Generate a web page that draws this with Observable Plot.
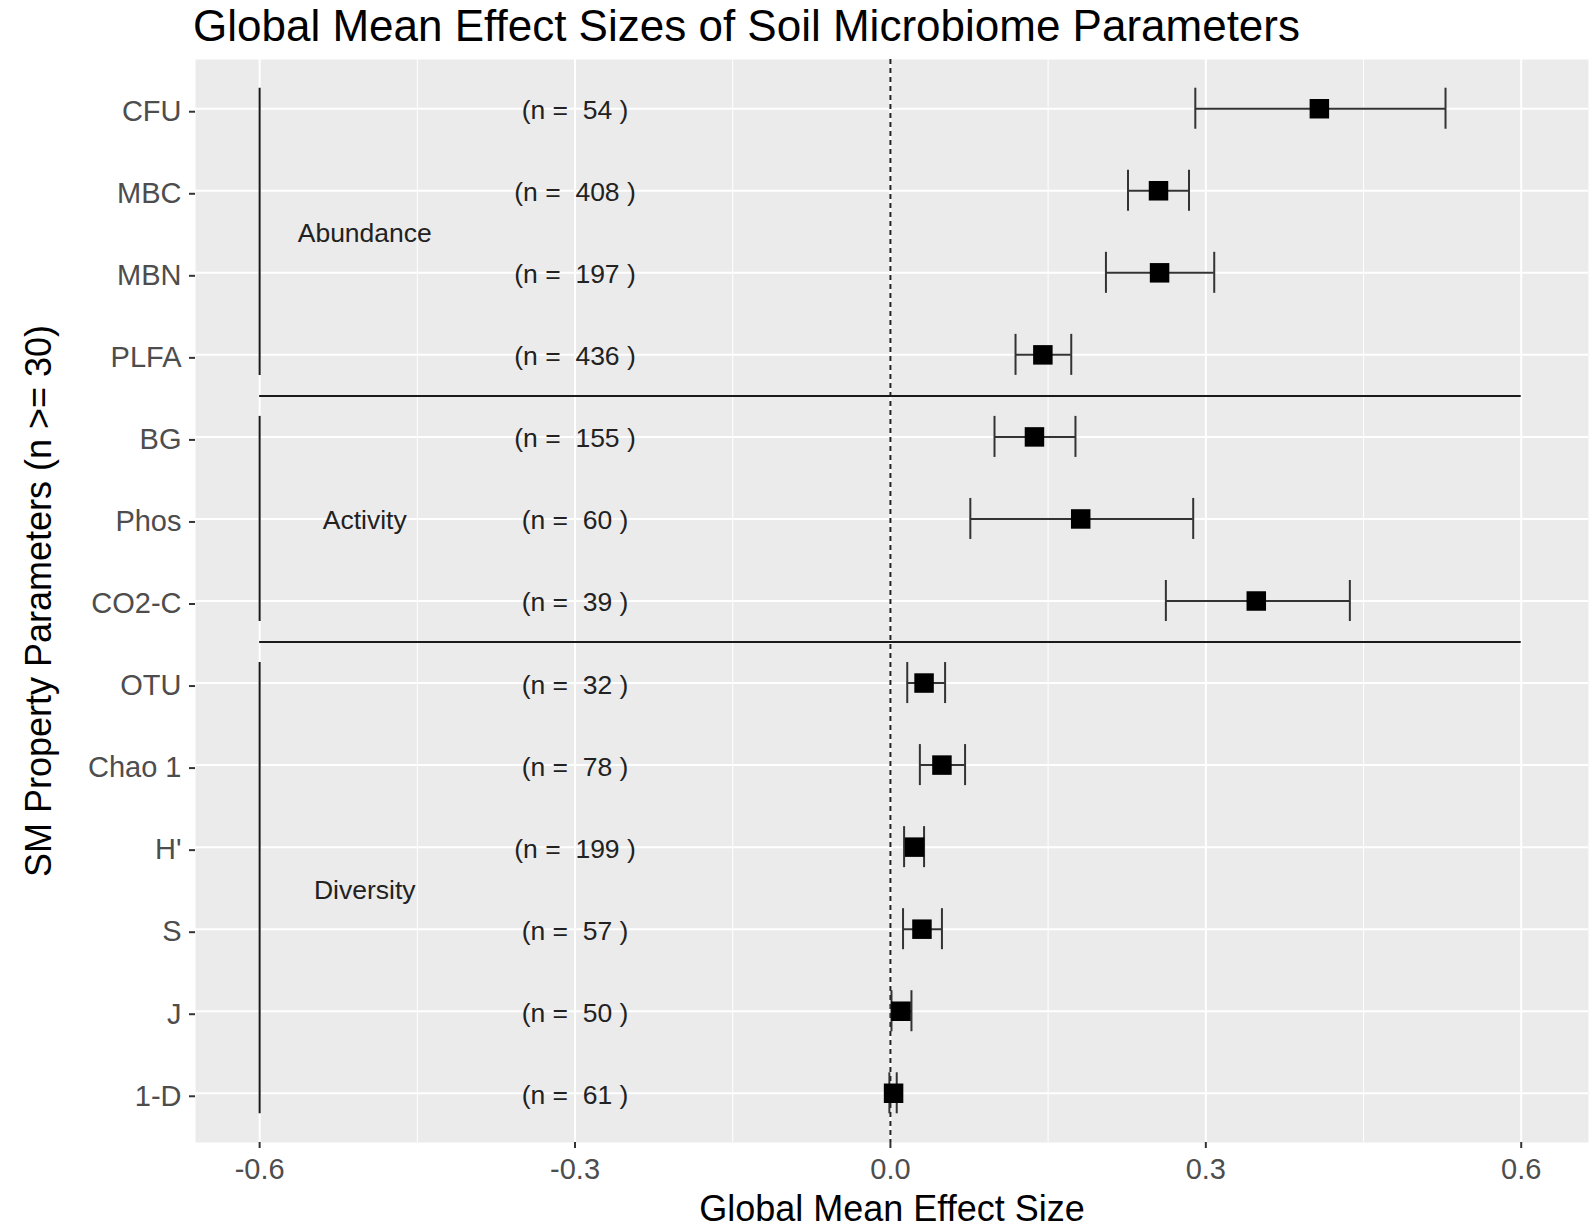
<!DOCTYPE html>
<html>
<head>
<meta charset="utf-8">
<script src="https://cdn.jsdelivr.net/npm/d3@7"></script>
<script src="https://cdn.jsdelivr.net/npm/@observablehq/plot@0.6"></script>
<style>
  body { margin: 0; background: #fff; font-family: "Liberation Sans", Arial, sans-serif; }
  #title { height: 52px; line-height: 52px; font-size: 44px; padding-left: 193px; color: #000; white-space: nowrap; }
  #chart svg text { white-space: pre; }
</style>
</head>
<body>
<div id="title">Global Mean Effect Sizes of Soil Microbiome Parameters</div>
<div id="chart"></div>
<script>
// ---- data ----
const params = ["CFU", "MBC", "MBN", "PLFA", "BG", "Phos", "CO2-C", "OTU", "Chao 1", "H'", "S", "J", "1-D"];
const groups = ["Abundance", "Abundance", "Abundance", "Abundance",
                "Activity", "Activity", "Activity",
                "Diversity", "Diversity", "Diversity", "Diversity", "Diversity", "Diversity"];
const nObs   = [54, 408, 197, 436, 155, 60, 39, 32, 78, 199, 57, 50, 61];
const means  = [0.408, 0.255, 0.256, 0.145, 0.137, 0.181, 0.348, 0.032, 0.049, 0.023, 0.030, 0.010, 0.003];
const lower  = [0.290, 0.226, 0.205, 0.119, 0.099, 0.076, 0.262, 0.016, 0.028, 0.013, 0.012, 0.001, -0.001];
const upper  = [0.528, 0.284, 0.308, 0.172, 0.176, 0.288, 0.437, 0.052, 0.071, 0.032, 0.049, 0.020, 0.006];
const majorTicks = [-0.6, -0.3, 0.0, 0.3, 0.6];
const minorTicks = [-0.45, -0.15, 0.15, 0.45];

// annotation anchors (data units)
const bracketX = -0.6, bracketEndX = 0.6, groupLabelX = -0.5, nLabelX = -0.3;
const capHalf = 0.25, bracketPad = 0.25;

// ---- derived table ----
const rows = params.map((p, i) => ({i, p, group: groups[i], n: nObs[i], mean: means[i], lo: lower[i], hi: upper[i]}));
const groupNames = [...new Set(groups)];
const spans = groupNames.map(g => {
  const idx = rows.filter(r => r.group === g).map(r => r.i);
  const start = d3.min(idx), end = d3.max(idx);
  return {g, start, end, mid: (start + end) / 2};
});
const separators = spans.slice(1).map((s, k) => ({y: (spans[k].end + s.start) / 2}));
const yIdx = d3.range(params.length);

const chart = Plot.plot({
  width: 1591,
  height: 1174,
  marginTop: 7,
  marginBottom: 84,
  marginLeft: 195,
  marginRight: 3,
  style: {fontFamily: "Liberation Sans, Arial, sans-serif", background: "#fff", overflow: "visible"},
  x: {domain: [-0.661, 0.664]},
  y: {domain: [-0.6, params.length - 1 + 0.6], reverse: true},
  marks: [
    Plot.frame({fill: "#EBEBEB", stroke: "none"}),
    Plot.gridX(minorTicks, {stroke: "#fff", strokeOpacity: 1, strokeWidth: 1}),
    Plot.gridX(majorTicks, {stroke: "#fff", strokeOpacity: 1, strokeWidth: 2}),
    Plot.gridY(yIdx, {stroke: "#fff", strokeOpacity: 1, strokeWidth: 2}),
    Plot.axisX(majorTicks, {tickFormat: d => d.toFixed(1), tickSize: 6, tickPadding: 10, fontSize: 29,
      fill: "#4D4D4D", stroke: "#333", strokeWidth: 2, label: null}),
    Plot.axisY(yIdx, {tickFormat: i => params[i], tickSize: 6, tickPadding: 8, fontSize: 29,
      fill: "#4D4D4D", stroke: "#333", strokeWidth: 2, label: null, dy: 3}),
    Plot.text(["Global Mean Effect Size"], {frameAnchor: "bottom", lineAnchor: "bottom", dy: 78, fontSize: 36, fill: "#000"}),
    Plot.text(["SM Property Parameters (n >= 30)"], {frameAnchor: "left", textAnchor: "middle", rotate: -90, dx: -156, fontSize: 36, fill: "#000"}),
    // zero reference
    Plot.ruleX([0], {stroke: "#222", strokeWidth: 2, strokeDasharray: "5,4"}),
    // group brackets & separators
    Plot.ruleX(spans, {x: () => bracketX, y1: d => d.start - bracketPad, y2: d => d.end + bracketPad, stroke: "#1a1a1a", strokeWidth: 2}),
    Plot.ruleY(separators, {y: "y", x1: () => bracketX, x2: () => bracketEndX, stroke: "#1a1a1a", strokeWidth: 2}),
    Plot.text(spans, {x: () => groupLabelX, y: "mid", text: "g", fontSize: 26.5, fill: "#222", dy: 2}),
    Plot.text(rows, {x: () => nLabelX, y: "i", text: d => `(n =  ${d.n} )`, fontSize: 26.5, fill: "#222", dy: 2}),
    // error bars
    Plot.ruleY(rows, {y: "i", x1: "lo", x2: "hi", stroke: "#333", strokeWidth: 2}),
    Plot.ruleX(rows, {x: "lo", y1: d => d.i - capHalf, y2: d => d.i + capHalf, stroke: "#333", strokeWidth: 2}),
    Plot.ruleX(rows, {x: "hi", y1: d => d.i - capHalf, y2: d => d.i + capHalf, stroke: "#333", strokeWidth: 2}),
    Plot.dot(rows, {x: "mean", y: "i", symbol: "square", r: 11, fill: "#000", stroke: "none"})
  ]
});
document.getElementById("chart").appendChild(chart);
</script>
</body>
</html>
